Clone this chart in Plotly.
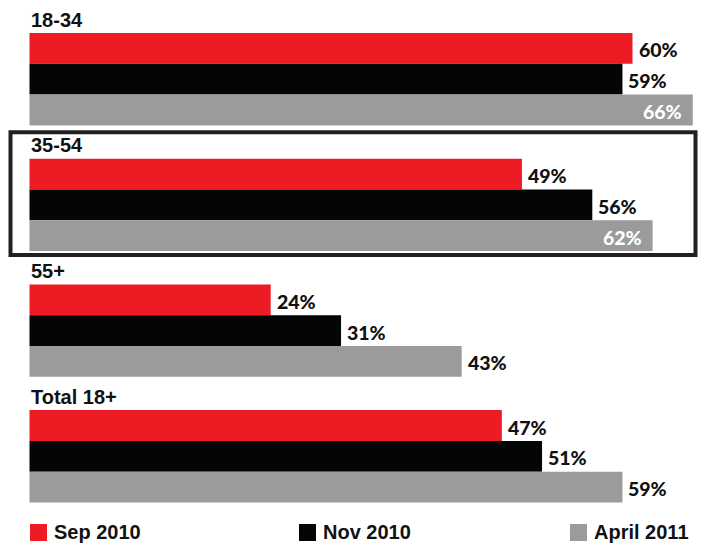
import plotly.graph_objects as go

# Survey share by age group across three waves
groups = ["18-34", "35-54", "55+", "Total 18+"]
waves = ["Sep 2010", "Nov 2010", "April 2011"]
sep_2010 = [60, 49, 24, 47]
nov_2010 = [59, 56, 31, 51]
apr_2011 = [66, 62, 43, 59]
series_values = [sep_2010, nov_2010, apr_2011]
colors = ["#ED1C24", "#050505", "#9B9B9B"]
highlight_group = "35-54"

# Layout constants (vertical axis runs in pixel-like units, top to bottom)
W, H = 708, 546
X0_PX = 29.5          # where 0% sits
PX_PER_PCT = 10.05    # horizontal scale
BAR_H = 30.8
GROUP_PITCH = 125.7
FIRST_TOP = 33.0
LABEL_FONT = "Lato"
HEAD_FONT = "Liberation Sans"

x_range = [-X0_PX / PX_PER_PCT, (W - X0_PX) / PX_PER_PCT]


def px_to_x(px):
    return (px - X0_PX) / PX_PER_PCT


fig = go.Figure()
annotations = []

for s, (name, vals, col) in enumerate(zip(waves, series_values, colors)):
    ys = [FIRST_TOP + g * GROUP_PITCH + BAR_H / 2 + s * BAR_H for g in range(len(groups))]
    fig.add_trace(go.Bar(
        x=vals, y=ys, orientation="h", width=BAR_H,
        marker=dict(color=col, line=dict(width=0)),
        name=name, showlegend=False, hoverinfo="skip",
    ))
    for v, y in zip(vals, ys):
        inside = s == 2 and v >= 62
        annotations.append(dict(
            x=v, y=y + 1.5, xref="x", yref="y", text=f"{v}%", showarrow=False,
            xanchor="right" if inside else "left", yanchor="middle",
            xshift=-9 if inside else 4,
            font=dict(family=LABEL_FONT, size=19.5, color="white" if inside else "#111111",
                      weight=900),
        ))

# Group headings
for g, grp in enumerate(groups):
    annotations.append(dict(
        x=0, y=FIRST_TOP + g * GROUP_PITCH - 13.5, xref="x", yref="y", text=grp,
        showarrow=False, xanchor="left", yanchor="middle", xshift=-1,
        font=dict(family=HEAD_FONT, size=20, color="#111111", weight="bold"),
    ))

shapes = []
# Frame around the highlighted age group
hg = groups.index(highlight_group)
top = FIRST_TOP + hg * GROUP_PITCH
shapes.append(dict(
    type="rect", xref="x", yref="y",
    x0=px_to_x(10.5), x1=px_to_x(695.5), y0=top - 26.5, y1=top + 3 * BAR_H + 4,
    line=dict(color="#231F20", width=4), fillcolor="rgba(0,0,0,0)",
))

# Legend built from squares and labels
legend_px = [30, 299, 570]
for name, col, lx in zip(waves, colors, legend_px):
    shapes.append(dict(
        type="rect", xref="x", yref="y",
        x0=px_to_x(lx), x1=px_to_x(lx + 17), y0=524, y1=541,
        fillcolor=col, line=dict(width=0),
    ))
    annotations.append(dict(
        x=px_to_x(lx + 22), y=532, xref="x", yref="y", text=name, showarrow=False,
        xanchor="left", yanchor="middle",
        font=dict(family=HEAD_FONT, size=20, color="#111111", weight="bold"),
    ))

fig.update_layout(
    width=W, height=H,
    margin=dict(l=0, r=0, t=0, b=0),
    paper_bgcolor="white", plot_bgcolor="white",
    barmode="overlay",
    xaxis=dict(range=x_range, visible=False, fixedrange=True),
    yaxis=dict(range=[H, 0], visible=False, fixedrange=True),
    shapes=shapes, annotations=annotations,
    showlegend=False,
)

fig.write_html("out.html")
